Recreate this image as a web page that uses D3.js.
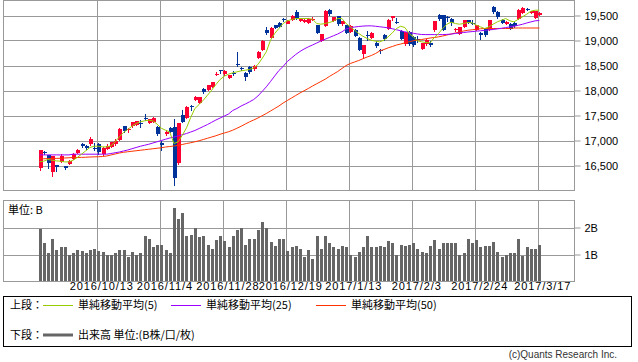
<!DOCTYPE html>
<html>
<head>
<meta charset="utf-8">
<script src="https://cdn.jsdelivr.net/npm/d3@7"></script>
<style>
  html, body { margin: 0; padding: 0; background: #fff; }
  svg { display: block; }
  .ax text { font-family: "Liberation Sans", Arial, sans-serif; font-size: 11px; fill: #000; }
  .jp { font-family: "Noto Sans CJK JP", sans-serif; font-size: 11px; fill: #000; }
</style>
</head>
<body>
<div id="chart"></div>
<script>
// Daily candles, 2016/9/21 .. 2017/3/17
const openP = [16460,16770,16706,16376,16506,16580,16486,16540,16640,16753,16925,16893,16926,16860,16940,16730,16840,16873,16926,17006,
  17286,17220,17286,17306,17350,17460,17360,17373,17273,16960,17126,17253,17273,16553,17513,17460,17690,17820,17753,18026,
  18020,18073,18330,18406,18326,18253,18360,18540,18450,18353,18473,18426,18660,18820,19220,19060,19306,19353,19430,19340,
  19406,19573,19393,19373,19353,19430,19306,18993,19286,19620,19393,19486,19340,19306,19173,19220,19060,18740,19110,19053,
  18953,18820,19120,19240,19460,19380,19193,18940,19173,19073,19030,18840,18940,18953,19206,19520,19506,19480,19440,19230,
  19140,19273,19406,19350,19220,19153,19240,19206,19673,19573,19420,19326,19340,19353,19440,19553,19640,19553,19460,19506];
const highP = [16820,16790,16720,16700,16520,16732,16500,16620,16750,16830,16960,16910,17070,16950,16960,16870,16930,16980,17030,17260,
  17300,17260,17380,17400,17420,17530,17440,17480,17300,16990,17210,17270,17430,17360,17620,17700,17720,17890,17880,18050,
  18110,18180,18380,18420,18420,18320,18400,18773,18480,18380,18490,18520,18790,19020,19280,19280,19320,19380,19460,19420,
  19520,19610,19450,19430,19450,19470,19320,19140,19610,19640,19480,19500,19400,19320,19320,19240,19070,18920,19190,19180,
  18990,18840,19140,19430,19500,19460,19220,19180,19190,19100,19090,18960,19040,19000,19400,19530,19520,19500,19460,19260,
  19280,19420,19420,19410,19320,19170,19250,19420,19690,19590,19440,19390,19360,19380,19630,19670,19650,19600,19600,19570];
const lowP = [16390,16706,16440,16276,16372,16560,16406,16520,16620,16730,16860,16820,16900,16800,16720,16700,16820,16850,16900,16990,
  17150,17150,17260,17290,17260,17400,17340,17350,17100,16800,17100,17150,16100,16520,17360,17440,17600,17800,17740,17940,
  18000,18060,18300,18340,18300,18230,18290,18480,18400,18200,18340,18400,18640,18800,19120,19040,19240,19250,19380,19330,
  19390,19420,19380,19360,19340,19400,19130,18980,19280,19500,19380,19300,19300,19130,19160,19070,18790,18650,19000,19030,
  18860,18740,19000,19220,19400,19330,19020,18900,18900,18880,18950,18820,18900,18880,19180,19400,19200,19380,19300,19180,
  19120,19260,19340,19320,19200,19006,19080,19190,19540,19440,19330,19310,19220,19260,19420,19540,19590,19540,19440,19490];
const closeP = [16806,16754,16544,16684,16465,16686,16449,16600,16735,16819,16899,16860,17024,16840,16774,16856,16900,16963,16998,17235,
  17184,17234,17365,17391,17336,17446,17425,17442,17134,16905,17177,17171,16251,17344,17374,17672,17668,17862,17862,17967,
  18106,18162,18333,18381,18400,18307,18350,18513,18426,18274,18373,18496,18765,18996,19155,19250,19260,19273,19410,19400,
  19500,19460,19430,19410,19440,19440,19153,19126,19594,19526,19473,19326,19390,19153,19300,19086,18806,18906,19100,19160,
  18886,18786,19040,19420,19493,19370,19040,19173,18926,18920,19010,18953,19020,18920,19393,19440,19220,19470,19353,19240,
  19273,19406,19360,19340,19306,19106,19106,19406,19573,19473,19353,19373,19240,19286,19620,19653,19606,19586,19586,19553];

// moving averages (5 / 25 / 50 days) as drawn
const ma5 = [16572,16586,16620,16606,16592,16586,16572,16572,16606,16660,16726,16792,16860,16886,16886,16872,16872,16892,16972,17072,
  17160,17220,17286,17340,17373,17393,17406,17393,17326,17246,17206,17173,16940,16972,17106,17253,17460,17640,17720,17806,
  17906,18006,18120,18220,18286,18326,18353,18373,18393,18406,18420,18453,18520,18640,18773,19006,19140,19240,19340,19393,
  19420,19440,19440,19440,19440,19426,19340,19326,19340,19360,19386,19440,19440,19340,19273,19206,19140,19086,19040,19006,
  18986,18973,19006,19073,19153,19240,19286,19260,19140,19073,18993,18973,18960,18953,19060,19140,19240,19326,19366,19340,
  19326,19340,19360,19353,19306,19273,19240,19273,19326,19373,19406,19440,19393,19373,19426,19473,19526,19586,19606,19606];
const ma25 = [16712,16712,16712,16712,16712,16712,16712,16712,16726,16726,16726,16726,16726,16726,16726,16726,16726,16740,16755,16770,
  16790,16810,16835,16860,16885,16905,16925,16950,16975,17000,17025,17050,17070,17090,17115,17140,17170,17200,17240,17280,
  17320,17365,17410,17450,17490,17530,17600,17640,17690,17730,17773,17820,17890,17980,18073,18180,18290,18400,18480,18580,
  18650,18720,18780,18830,18873,18910,18950,18990,19025,19060,19095,19130,19173,19230,19255,19270,19280,19288,19293,19293,
  19285,19275,19265,19253,19235,19215,19195,19173,19160,19145,19130,19120,19118,19118,19118,19118,19118,19122,19128,19140,
  19150,19160,19170,19178,19186,19195,19203,19212,19220,19232,19245,19258,19272,19286,19305,19325,19350,19372,19393,19400];
const ma50 = [16633,16635,16637,16640,16642,16645,16650,16655,16660,16660,16662,16665,16670,16673,16675,16680,16690,16710,16730,16750,
  16765,16775,16785,16795,16805,16815,16825,16835,16845,16855,16870,16880,16890,16905,16920,16940,16955,16975,16995,17020,
  17045,17070,17095,17125,17150,17175,17206,17245,17285,17330,17373,17410,17450,17495,17540,17590,17640,17690,17750,17800,
  17850,17900,17950,17995,18040,18090,18135,18180,18225,18280,18330,18380,18440,18500,18540,18570,18600,18635,18670,18700,
  18740,18790,18820,18853,18880,18910,18930,18953,18975,18995,19010,19020,19035,19050,19060,19073,19090,19110,19130,19150,
  19170,19190,19205,19215,19225,19235,19240,19240,19240,19240,19240,19240,19240,19250,19250,19250,19250,19250,19250,19250];

// volume, billions of shares
const volume = [1.94,1.41,1.04,1.59,1.16,1.26,1.26,1.00,1.04,1.15,1.12,1.04,1.15,1.19,1.12,1.10,1.00,1.00,1.04,1.15,
  1.15,0.90,1.10,1.00,1.07,1.70,1.59,1.26,1.37,1.37,1.15,1.04,2.74,2.30,2.52,1.68,1.74,2.00,1.63,1.68,
  1.37,1.22,1.52,1.68,1.49,1.26,1.68,1.89,2.00,1.37,1.59,1.59,1.89,2.19,2.00,1.48,1.33,1.56,1.56,1.12,
  1.26,1.33,1.19,0.89,1.15,0.83,1.70,1.22,1.70,1.41,1.26,1.19,1.30,1.26,1.00,0.89,1.11,1.26,1.70,1.26,
  1.26,1.33,1.26,1.49,1.41,1.00,1.37,1.33,1.37,1.41,1.22,1.11,1.04,1.33,1.52,1.19,1.44,1.44,1.41,1.44,
  1.00,1.04,1.59,1.41,1.52,1.26,1.33,1.33,1.48,1.11,0.89,1.00,1.04,1.04,1.56,0.94,1.26,1.19,1.22,1.37];

const dateTickIdx = [14, 29, 44, 59, 74, 89, 104, 119];
const dateTickLabels = ['2016/10/13', '2016/11/4', '2016/11/28', '2016/12/19', '2017/1/13', '2017/2/3', '2017/2/24', '2017/3/17'];
const priceTicks = [16500, 17000, 17500, 18000, 18500, 19000, 19500];
const volTicks = [1, 2];
const volTickLabels = ['1B', '2B'];

const W = 638, H = 362;
const left = 3.5, right = 574.5;
const upTop = 0.5, upBot = 190.5;
const loTop = 200.5, loBot = 281.5;
const GRID = '#999';
const UP = '#ff0033', DOWN = '#003399';

const svg = d3.select('#chart').append('svg')
    .attr('width', W).attr('height', H);

const x = d3.scaleLinear().domain([0, closeP.length - 1]).range([39.5, 539.3]);
const y = d3.scaleLinear().domain([16000, 19800]).range([upBot, upTop]);
const yv = d3.scaleLinear().domain([0, 3]).range([loBot, loTop]);

// gridlines
const grid = svg.append('g').attr('shape-rendering', 'crispEdges')
    .attr('stroke', GRID).attr('stroke-width', 1);
priceTicks.forEach(v => {
    grid.append('line').attr('x1', left).attr('x2', right)
        .attr('y1', Math.round(y(v)) + 0.5).attr('y2', Math.round(y(v)) + 0.5);
});
volTicks.forEach(v => {
    grid.append('line').attr('x1', left).attr('x2', right)
        .attr('y1', Math.round(yv(v)) + 0.5).attr('y2', Math.round(yv(v)) + 0.5);
});
dateTickIdx.forEach(i => {
    const gx = Math.round(x(i) - 1) + 0.5;
    grid.append('line').attr('x1', gx).attr('x2', gx).attr('y1', upTop).attr('y2', upBot);
    grid.append('line').attr('x1', gx).attr('x2', gx).attr('y1', loTop).attr('y2', loBot);
});

// volume bars
svg.append('g').attr('shape-rendering', 'crispEdges')
  .selectAll('rect').data(volume).join('rect')
    .attr('x', (d, i) => Math.round(x(i)) - 1)
    .attr('width', 3)
    .attr('y', d => yv(d))
    .attr('height', d => loBot - yv(d))
    .attr('fill', '#666');

// candles
const cg = svg.append('g').attr('shape-rendering', 'crispEdges');
closeP.forEach((c, i) => {
    const o = openP[i];
    const col = c >= o ? UP : DOWN;
    const cx = Math.round(x(i));
    cg.append('line')
        .attr('x1', cx + 0.5).attr('x2', cx + 0.5)
        .attr('y1', y(highP[i])).attr('y2', y(lowP[i]))
        .attr('stroke', col);
    const top = y(Math.max(o, c));
    const h = Math.max(1, y(Math.min(o, c)) - top);
    cg.append('rect')
        .attr('x', cx - 1).attr('width', 4)
        .attr('y', top).attr('height', h)
        .attr('fill', col);
});

// moving average lines
const line = d3.line().x((d, i) => x(i)).y(d => y(d));
[[ma50, '#ff3300'], [ma25, '#9900ff'], [ma5, '#99cc00']].forEach(([s, col]) => {
    svg.append('path').datum(s)
        .attr('d', line)
        .attr('fill', 'none')
        .attr('stroke', col)
        .attr('stroke-width', 1);
});

// frames
svg.append('rect').attr('x', left).attr('y', upTop)
    .attr('width', right - left).attr('height', upBot - upTop)
    .attr('fill', 'none').attr('stroke', GRID).attr('shape-rendering', 'crispEdges');
svg.append('rect').attr('x', left).attr('y', loTop)
    .attr('width', right - left).attr('height', loBot - loTop)
    .attr('fill', 'none').attr('stroke', GRID).attr('shape-rendering', 'crispEdges');

// right axes
const yAxis = svg.append('g').attr('class', 'ax')
    .attr('transform', `translate(${right},0)`)
    .call(d3.axisRight(y).tickValues(priceTicks).tickSize(6).tickPadding(4)
        .tickFormat(d3.format(',')));
const vAxis = svg.append('g').attr('class', 'ax')
    .attr('transform', `translate(${right},0)`)
    .call(d3.axisRight(yv).tickValues(volTicks).tickSize(6).tickPadding(4)
        .tickFormat((d, i) => volTickLabels[i]));
[yAxis, vAxis].forEach(a => {
    a.select('.domain').remove();
    a.selectAll('.tick line').attr('stroke', GRID);
});

// date axis
const xAxis = svg.append('g').attr('class', 'ax')
    .attr('transform', `translate(3,${loBot})`)
    .call(d3.axisBottom(x).tickValues(dateTickIdx).tickSize(0).tickPadding(1)
        .tickFormat((d, i) => dateTickLabels[i]));
xAxis.select('.domain').remove();
xAxis.selectAll('text').attr('letter-spacing', '0.9px').attr('dy', '0.71em');

// unit label
svg.append('text').attr('class', 'jp').attr('x', 8).attr('y', 214).text('単位: B');

// legend box
svg.append('rect').attr('x', 3.5).attr('y', 296.5).attr('width', 628).attr('height', 50)
    .attr('fill', 'none').attr('stroke', '#000').attr('shape-rendering', 'crispEdges');
const lg = svg.append('g');
lg.append('text').attr('class', 'jp').attr('x', 10).attr('y', 309).text('上段：');
const legendItems = [
    { x: 43, col: '#99cc00', label: '単純移動平均(5)' },
    { x: 171, col: '#9900ff', label: '単純移動平均(25)' },
    { x: 316, col: '#ff3300', label: '単純移動平均(50)' }
];
legendItems.forEach(it => {
    lg.append('line').attr('x1', it.x).attr('x2', it.x + 30).attr('y1', 305.5).attr('y2', 305.5)
        .attr('stroke', it.col).attr('shape-rendering', 'crispEdges');
    lg.append('text').attr('class', 'jp').attr('x', it.x + 35).attr('y', 309).text(it.label);
});
lg.append('text').attr('class', 'jp').attr('x', 10).attr('y', 339).text('下段：');
lg.append('line').attr('x1', 43).attr('x2', 73).attr('y1', 335).attr('y2', 335)
    .attr('stroke', '#666').attr('stroke-width', 3);
lg.append('text').attr('class', 'jp').attr('x', 78).attr('y', 339).text('出来高 単位:(B株/口/枚)');

svg.append('text').attr('x', 617).attr('y', 358).attr('text-anchor', 'end')
    .style('font-family', '"Liberation Sans", Arial, sans-serif').style('font-size', '10px')
    .style('fill', '#333').text('(c)Quants Research Inc.');
</script>
</body>
</html>
